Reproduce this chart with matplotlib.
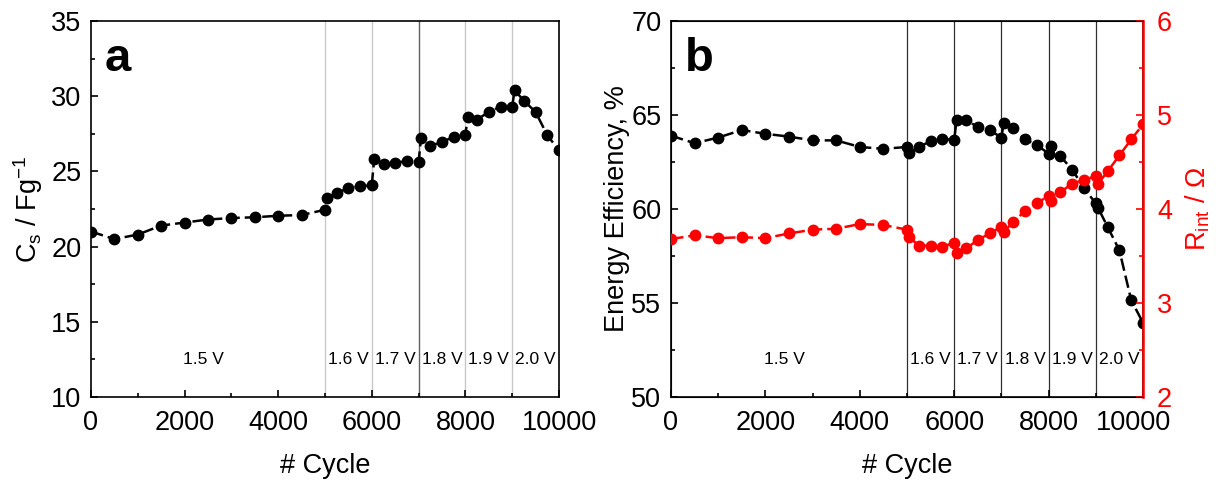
import matplotlib
matplotlib.use("Agg")
import matplotlib.pyplot as plt
import matplotlib.transforms as mtransforms
from matplotlib.ticker import MultipleLocator

plt.rcParams['font.family'] = ['Liberation Sans', 'DejaVu Sans']
plt.rcParams['mathtext.fontset'] = 'custom'
plt.rcParams['mathtext.rm'] = 'Liberation Sans'
plt.rcParams['mathtext.it'] = 'Liberation Sans'
plt.rcParams['mathtext.default'] = 'rm'

# cycle numbers (second point at each voltage step sits just after the boundary)
cycles = [0, 500, 1000, 1500, 2000, 2500, 3000, 3500, 4000, 4500,
          5000, 5050, 5250, 5500, 5750,
          6000, 6050, 6250, 6500, 6750,
          7000, 7050, 7250, 7500, 7750,
          8000, 8050, 8250, 8500, 8750,
          9000, 9050, 9250, 9500, 9750, 10000]

# panel a: specific capacitance, F/g
cs = [21.0, 20.5, 20.8, 21.4, 21.6, 21.8, 21.9, 21.95, 22.05, 22.1,
      22.45, 23.25, 23.55, 23.9, 24.0,
      24.1, 25.8, 25.5, 25.55, 25.7,
      25.6, 27.2, 26.7, 26.95, 27.3,
      27.45, 28.6, 28.45, 28.95, 29.3,
      29.3, 30.4, 29.7, 28.95, 27.4, 26.4]

# panel b: energy efficiency (%) and internal resistance (ohm)
ee = [63.9, 63.5, 63.8, 64.2, 64.0, 63.85, 63.65, 63.65, 63.3, 63.2,
      63.3, 63.0, 63.3, 63.6, 63.75,
      63.65, 64.75, 64.75, 64.35, 64.2,
      63.8, 64.6, 64.3, 63.7, 63.4,
      62.95, 63.35, 62.8, 62.1, 61.1,
      60.3, 60.05, 59.05, 57.8, 55.15, 53.95]

rint = [3.68, 3.72, 3.69, 3.70, 3.69, 3.74, 3.78, 3.79, 3.84, 3.83,
        3.78, 3.70, 3.61, 3.61, 3.60,
        3.64, 3.53, 3.58, 3.67, 3.74,
        3.81, 3.76, 3.86, 3.98, 4.06,
        4.14, 4.08, 4.18, 4.27, 4.31,
        4.35, 4.27, 4.40, 4.57, 4.74, 4.90]

step_edges = [5000, 6000, 7000, 8000, 9000]
step_labels = ['1.5 V', '1.6 V', '1.7 V', '1.8 V', '1.9 V', '2.0 V']
label_x = [2400, 5500, 6500, 7500, 8500, 9500]

FS = 19.5
fig = plt.figure(figsize=(12.16, 4.84), dpi=100)
ax_a = fig.add_axes([91 / 1216, 1 - 397 / 484, 468 / 1216, 376 / 484])
ax_b = fig.add_axes([671 / 1216, 1 - 397 / 484, 472 / 1216, 376 / 484])


def style_axis(ax):
    ax.set_xlim(0, 10000)
    ax.xaxis.set_major_locator(MultipleLocator(2000))
    ax.xaxis.set_minor_locator(MultipleLocator(1000))
    ax.tick_params(which='both', direction='in', labelsize=FS, pad=7)
    ax.tick_params(axis='x', pad=9.5)
    ax.tick_params(which='major', length=5, width=1.2)
    ax.tick_params(which='minor', length=3, width=1.2)
    for s in ax.spines.values():
        s.set_linewidth(1.2)
    ax.set_xlabel('# Cycle', fontsize=FS, labelpad=12)


def step_text(ax):
    trans = mtransforms.blended_transform_factory(ax.transData, ax.transAxes)
    for x, t in zip(label_x, step_labels):
        ax.text(x, 0.1, t, transform=trans, ha='center', va='center', fontsize=12.5)


# ---- panel a
style_axis(ax_a)
ax_a.set_ylim(10, 35)
ax_a.yaxis.set_major_locator(MultipleLocator(5))
ax_a.yaxis.set_minor_locator(MultipleLocator(2.5))
for x in step_edges:
    c = '#606060' if x == 7000 else '#c8c8c8'
    ax_a.axvline(x, color=c, lw=1.0, zorder=1)
ax_a.plot(cycles, cs, color='black', lw=1.8, dashes=(5, 2), marker='o', ms=7.5, zorder=3)
ax_a.set_ylabel(r'C$_\mathregular{s}$ / Fg$^\mathregular{-1}$', fontsize=FS, labelpad=4)
ax_a.text(0.03, 0.9, 'a', transform=ax_a.transAxes, fontsize=34, fontweight='bold',
          ha='left', va='center')
step_text(ax_a)

# ---- panel b
style_axis(ax_b)
ax_b.set_ylim(50, 70)
ax_b.yaxis.set_major_locator(MultipleLocator(5))
ax_b.yaxis.set_minor_locator(MultipleLocator(2.5))
for x in step_edges:
    ax_b.axvline(x, color='#303030', lw=0.9, zorder=1)
ax_b.plot(cycles, ee, color='black', lw=1.8, dashes=(5, 2), marker='o', ms=7.5, zorder=3)
ax_b.set_ylabel('Energy Efficiency, %', fontsize=FS, labelpad=1)
ax_b.text(0.03, 0.9, 'b', transform=ax_b.transAxes, fontsize=34, fontweight='bold',
          ha='left', va='center')
step_text(ax_b)

ax_r = ax_b.twinx()
ax_r.set_ylim(2, 6)
ax_r.yaxis.set_major_locator(MultipleLocator(1))
ax_r.yaxis.set_minor_locator(MultipleLocator(0.5))
ax_r.plot(cycles, rint, color='red', lw=1.8, dashes=(5, 2), marker='o', ms=7.5, zorder=3)
ax_r.tick_params(which='both', direction='in', labelsize=FS, pad=10, colors='red')
ax_r.tick_params(which='major', length=5, width=1.2)
ax_r.tick_params(which='minor', length=3, width=1.2)
ax_r.spines['right'].set_color('red')
ax_r.spines['right'].set_linewidth(1.8)
ax_r.set_ylabel(r'R$_\mathregular{int}$ / Ω', fontsize=FS, color='red', labelpad=8)

# nudge the last x label of panel b a little left so it clears the red "2"
fig.canvas.draw()
last = ax_b.xaxis.get_major_ticks()[-1].label1
for tk in ax_b.xaxis.get_major_ticks():
    if tk.label1.get_text() == '10000':
        last = tk.label1
last.set_transform(last.get_transform() +
                   mtransforms.ScaledTranslation(-7 / 72, 0, fig.dpi_scale_trans))

fig.savefig('out.png', dpi=100)
